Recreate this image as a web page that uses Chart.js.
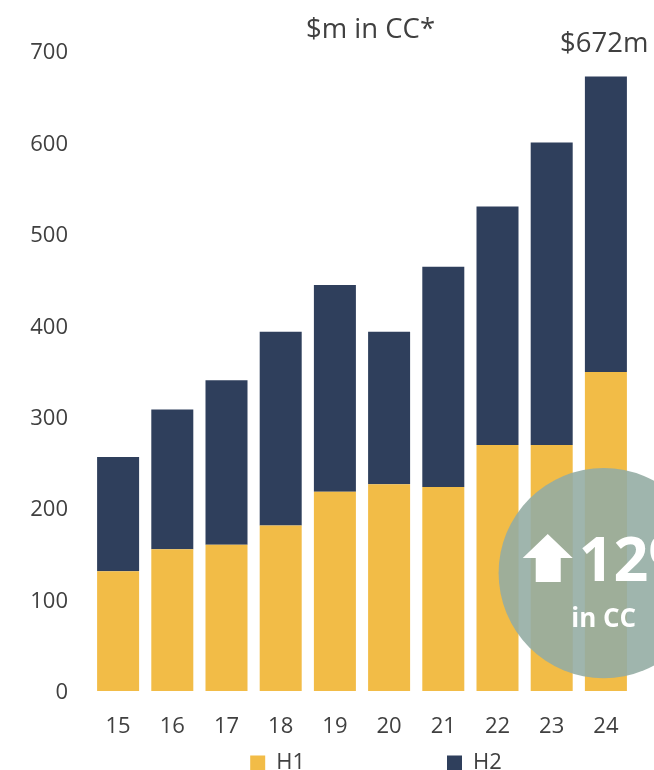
<!DOCTYPE html>
<html><head><meta charset="utf-8">
<style>html,body{margin:0;padding:0;background:#fff;overflow:hidden}#w{width:654px;height:770px;position:relative}</style>
<script src="https://cdn.jsdelivr.net/npm/chart.js@4/dist/chart.umd.min.js"></script>
</head><body><div id="w"><canvas id="c"></canvas></div>
<script>
const categories = ['15','16','17','18','19','20','21','22','23','24'];
const h1Values = [131,155,160,181,218,226,223,269,269,349];
const h2Values = [125,153,180,212,226,167,241,261,331,323];
const unitLabel = '$m in CC*';
const totalLabel = '$672m';
const badgeValue = '12%';
const badgeNote = 'in CC';
const FONT = '"Open Sans","Noto Sans",sans-serif';
const INK = '#404040';
const LEGEND_GAP = 142;

const overlay = {
  id: 'overlay',
  afterLayout(chart) {
    const l = chart.legend;
    const dx = 376 - (l.left + l.right) / 2;
    l.left += dx; l.right += dx;
    l.top = 752 - LEGEND_GAP; l.bottom = 770;
  },
  afterDatasetsDraw(chart) {
    const { ctx, scales: { x, y } } = chart;
    ctx.save();
    const cx = x.getPixelForValue(8.96), cy = y.getPixelForValue(129);
    const r = (y.getPixelForValue(0) - y.getPixelForValue(115));
    ctx.fillStyle = 'rgba(147,172,163,0.89)';
    ctx.beginPath(); ctx.arc(cx, cy, r, 0, Math.PI * 2); ctx.fill();
    const ax = cx - 56, ay = cy - 39;
    ctx.fillStyle = '#fff';
    ctx.beginPath();
    ctx.moveTo(ax, ay); ctx.lineTo(ax + 25, ay + 24); ctx.lineTo(ax + 13, ay + 24);
    ctx.lineTo(ax + 13, ay + 48); ctx.lineTo(ax - 12, ay + 48); ctx.lineTo(ax - 12, ay + 24);
    ctx.lineTo(ax - 25, ay + 24); ctx.closePath(); ctx.fill();
    ctx.textBaseline = 'alphabetic';
    ctx.textAlign = 'left';
    ctx.font = 'bold 61px ' + FONT;
    ctx.fillText(badgeValue, cx - 25, cy + 8);
    ctx.textAlign = 'center';
    ctx.font = 'bold 26px ' + FONT;
    ctx.fillText(badgeNote, cx, cy + 54);
    ctx.fillStyle = INK;
    ctx.font = '27.5px ' + FONT;
    ctx.textAlign = 'left';
    ctx.fillText(unitLabel, 306, 38);
    ctx.fillText(totalLabel, 560, 52);
    ctx.restore();
  }
};

new Chart(document.getElementById('c'), {
  type: 'bar',
  data: {
    labels: categories,
    datasets: [
      { label: 'H1', data: h1Values, backgroundColor: '#F2BC47', borderWidth: 0 },
      { label: 'H2', data: h2Values, backgroundColor: '#2F3F5C', borderWidth: 0 }
    ]
  },
  options: {
    responsive: true, maintainAspectRatio: false, animation: false,
    layout: { padding: { top: 51, right: 21, bottom: 0, left: 0 } },
    datasets: { bar: { categoryPercentage: 1, barPercentage: 0.775 } },
    plugins: {
      tooltip: { enabled: false },
      legend: {
        position: 'bottom', align: 'center', maxHeight: 20,
        labels: { boxWidth: 15, boxHeight: 15, padding: LEGEND_GAP, color: INK, font: { family: FONT, size: 22 } }
      }
    },
    scales: {
      x: {
        stacked: true,
        grid: { display: false, drawTicks: false }, border: { display: false },
        ticks: { color: INK, font: { family: FONT, size: 22 }, padding: 23, maxRotation: 0 },
        afterFit(s) { s.height = 79 - s.chart.legend.height; }
      },
      y: {
        stacked: true, min: 0, max: 700,
        grid: { display: false, drawTicks: false }, border: { display: false },
        ticks: { stepSize: 100, color: INK, font: { family: FONT, size: 22 }, padding: 23, labelOffset: 2 },
        afterFit(s) { s.width = 91; }
      }
    }
  },
  plugins: [overlay]
});
</script></body></html>
